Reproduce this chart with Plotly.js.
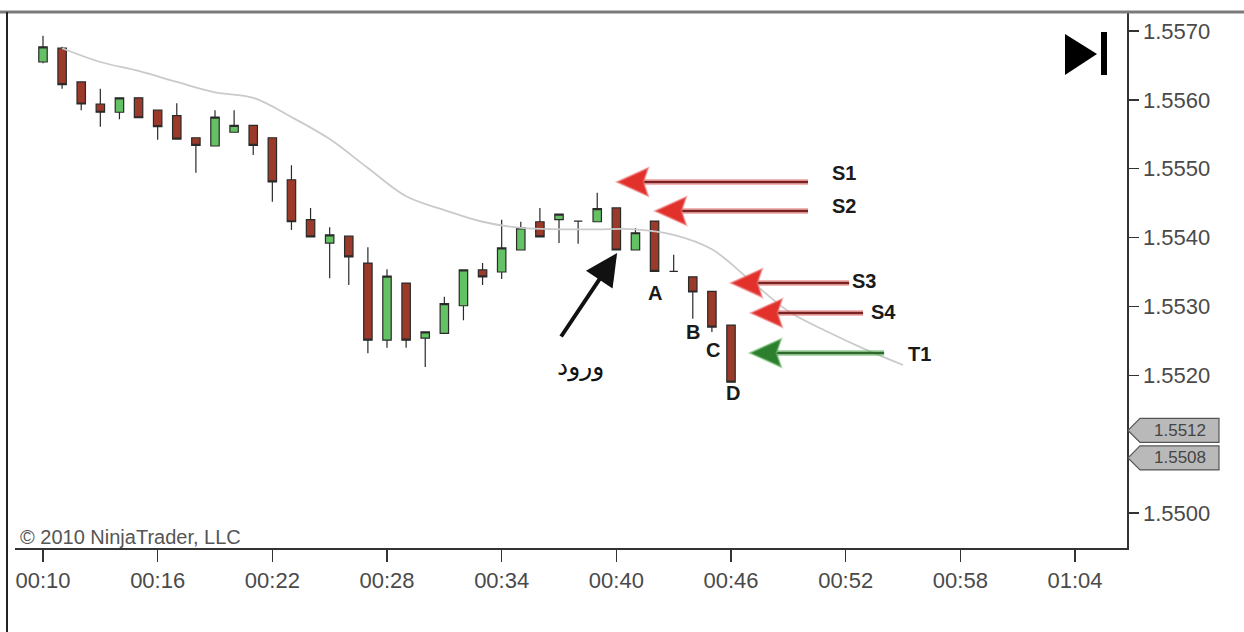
<!DOCTYPE html>
<html><head><meta charset="utf-8">
<script src="https://cdn.plot.ly/plotly-3.0.1.min.js"></script>
<style>html,body{margin:0;padding:0;background:#fff}#chart{width:1244px;height:632px}</style>
</head><body><div id="chart"></div>
<script>
// ---- data (minutes after 00:00) ----
const minutes = [10,11,12,13,14,15,16,17,18,19,20,21,22,23,24,25,26,27,28,29,30,31,32,33,34,35,36,37,38,39,40,41,42,43,44,45,46];
const openP  = [1.55655,1.55675,1.55626,1.55594,1.55582,1.55603,1.55585,1.55577,1.55545,1.55533,1.55553,1.55563,1.55545,1.55484,1.55426,1.55392,1.55402,1.55363,1.55251,1.55334,1.55254,1.55261,1.55301,1.55353,1.55350,1.55382,1.55423,1.55426,1.55424,1.55423,1.55443,1.55382,1.55424,1.55351,1.55343,1.55322,1.55273];
const highP  = [1.55693,1.55677,1.55626,1.55616,1.55603,1.55603,1.55585,1.55595,1.55545,1.55585,1.55585,1.55563,1.55545,1.55505,1.55443,1.55415,1.55402,1.55386,1.55354,1.55334,1.55263,1.55314,1.55353,1.55363,1.55426,1.55423,1.55443,1.55434,1.55424,1.55465,1.55443,1.55414,1.55424,1.55375,1.55343,1.55322,1.55273];
const lowP   = [1.55653,1.55616,1.55585,1.55561,1.55572,1.55574,1.55542,1.55543,1.55494,1.55533,1.55553,1.55520,1.55452,1.55411,1.55401,1.55341,1.55331,1.55232,1.55240,1.55240,1.55212,1.55261,1.55280,1.55331,1.55340,1.55382,1.55401,1.55392,1.55391,1.55423,1.55382,1.55382,1.55351,1.55351,1.55282,1.55263,1.55190];
const closeP = [1.55677,1.55622,1.55594,1.55582,1.55603,1.55574,1.55561,1.55543,1.55534,1.55575,1.55563,1.55534,1.55481,1.55423,1.55401,1.55404,1.55372,1.55251,1.55344,1.55251,1.55263,1.55304,1.55353,1.55343,1.55385,1.55414,1.55401,1.55434,1.55424,1.55442,1.55382,1.55407,1.55351,1.55351,1.55321,1.55270,1.55190];

const maMinutes = [11,13,15,17,19,21,23,25,27,29,31,33,35,37,39,41,43,45,47,49,51,53,55];
const maValues  = [1.55675,1.55655,1.55642,1.55626,1.55611,1.55603,1.55575,1.55543,1.55501,1.55460,1.55440,1.55423,1.55414,1.55412,1.55412,1.55412,1.55404,1.55383,1.55338,1.55293,1.55264,1.55238,1.55215];

const xTickVals = [10,16,22,28,34,40,46,52,58,64];
const xTickText = ['00:10','00:16','00:22','00:28','00:34','00:40','00:46','00:52','00:58','01:04'];
// 1.5510 is hidden under the price markers in the reference
const yTickVals = [1.5500,1.5520,1.5530,1.5540,1.5550,1.5560,1.5570];

const levelNames = ['S1','S2','S3','S4','T1'];
const levelPrice = [1.554807,1.554386,1.55334,1.552905,1.552324];
const levelTipX  = [40.04,42.03,46.00,47.05,47.00];
const levelTailX = [50.03,50.03,52.18,52.91,54.01];
const levelLabelX = [51.92,51.92,52.96,53.96,55.84];
const levelLabelY = [1.554938,1.554459,1.553369,1.552919,1.552309];

const pointNames = ['A','B','C','D'];
const pointX = [42.03,44.02,45.06,46.11];
const pointY = [1.553195,1.552629,1.552367,1.551743];

const priceMarkers = [1.5512,1.5508];
const priceMarkerText = ['1.5512','1.5508'];

// ---- geometry ----
const X0 = 8.535, X1 = 66.72, Y0 = 1.549492, Y1 = 1.557276;
const ML = 15, MR = 117, MT = 12, MB = 84, W = 1244, H = 632;
const plotW = W - ML - MR, plotH = H - MT - MB;
const dxPx = (X1 - X0) / plotW, dyPx = (Y1 - Y0) / plotH;
const px2paperX = px => (px - ML) / plotW;
const py2paperY = py => (H - MB - py) / plotH;
const price2paperY = p => (p - Y0) / (Y1 - Y0);

const shapes = [];
const annotations = [];

// level arrows
levelNames.forEach((n, i) => {
  const green = n === 'T1';
  const halo = green ? 'rgba(110,185,110,0.55)' : 'rgba(235,120,120,0.55)';
  const core = green ? '#2f6a2a' : '#7a2323';
  const head = green ? '#2c7f2c' : '#e2302b';
  const y = levelPrice[i], tip = levelTipX[i];
  const hl = 31 * dxPx, hh = 14 * dyPx;
  shapes.push({type:'line', xref:'x', yref:'y', x0: levelTailX[i], x1: tip + hl*0.6, y0: y, y1: y, line:{color: halo, width: 6}});
  shapes.push({type:'line', xref:'x', yref:'y', x0: levelTailX[i], x1: tip + hl*0.6, y0: y, y1: y, line:{color: core, width: 2.5}});
  shapes.push({type:'path', xref:'x', yref:'y', path:`M ${tip},${y} L ${tip+hl},${y+hh} L ${tip+hl*0.85},${y} L ${tip+hl},${y-hh} Z`, fillcolor: head, line:{color: halo, width: 2}});
  annotations.push({xref:'x', yref:'y', x: levelLabelX[i], y: levelLabelY[i], text: '<b>' + n + '</b>', showarrow:false,
    font:{family:'Liberation Sans, Arial', size:20, color:'#1a1a1a'}});
});

pointNames.forEach((n, i) => {
  annotations.push({xref:'x', yref:'y', x: pointX[i], y: pointY[i], text:'<b>' + n + '</b>', showarrow:false,
    font:{family:'Liberation Sans, Arial', size:20, color:'#1a1a1a'}});
});

// entry arrow
annotations.push({xref:'x', yref:'y', x: 40.04, y: 1.553776, ax: -57, ay: 85, axref:'pixel', ayref:'pixel',
  showarrow:true, arrowhead:2, arrowsize:1.6, arrowwidth:4, arrowcolor:'#111', text:''});
annotations.push({xref:'x', yref:'y', x: 38.10, y: 1.55212, text:'ورود', showarrow:false,
  font:{family:'DejaVu Sans', size:25, color:'#111'}});

// price markers on the axis
priceMarkers.forEach((p, i) => {
  const yc = price2paperY(p), h = 12 / plotH;
  const xt = px2paperX(1128), xb = px2paperX(1140), xr = px2paperX(1219);
  shapes.push({type:'path', xref:'paper', yref:'paper',
    path:`M ${xt},${yc} L ${xb},${yc+h} L ${xr},${yc+h} L ${xr},${yc-h} L ${xb},${yc-h} Z`,
    fillcolor:'#b9b9b9', line:{color:'#555', width:1.2}});
  annotations.push({xref:'paper', yref:'paper', x: px2paperX(1180), y: yc, xanchor:'center', yanchor:'middle',
    text: priceMarkerText[i], showarrow:false, borderpad:0,
    font:{family:'Liberation Sans, Arial', size:17, color:'#444'}});
});

// "end" symbol top right
shapes.push({type:'path', xref:'paper', yref:'paper',
  path:`M ${px2paperX(1065)},${py2paperY(34)} L ${px2paperX(1097)},${py2paperY(54)} L ${px2paperX(1065)},${py2paperY(75)} Z`,
  fillcolor:'#000', line:{width:0}});
shapes.push({type:'rect', xref:'paper', yref:'paper', x0: px2paperX(1101), x1: px2paperX(1107), y0: py2paperY(75), y1: py2paperY(32),
  fillcolor:'#000', line:{width:0}});

// frame lines
shapes.push({type:'line', xref:'paper', yref:'paper', x0: px2paperX(0), x1: px2paperX(W), y0: py2paperY(12), y1: py2paperY(12), line:{color:'#7a7a7a', width:3}});
shapes.push({type:'line', xref:'paper', yref:'paper', x0: px2paperX(7), x1: px2paperX(7), y0: py2paperY(12), y1: py2paperY(H), line:{color:'#222', width:2}});

annotations.push({xref:'paper', yref:'paper', x: px2paperX(18), y: py2paperY(537), xanchor:'left', yanchor:'middle',
  text:'© 2010 NinjaTrader, LLC', showarrow:false, font:{family:'Liberation Sans, Arial', size:20, color:'#555'}});

const traces = [
  {type:'scatter', mode:'lines', x: maMinutes, y: maValues, line:{color:'#cacaca', width:1.8, shape:'spline'}, hoverinfo:'skip', showlegend:false},
  {type:'candlestick', x: minutes, open: openP, high: highP, low: lowP, close: closeP,
   increasing:{line:{color:'#2a2a2a', width:1.2}, fillcolor:'#64c264'},
   decreasing:{line:{color:'#2a2a2a', width:1.2}, fillcolor:'#9c3a2a'},
   whiskerwidth:0, hoverinfo:'skip', showlegend:false}
];

const layout = {
  width: W, height: H,
  margin:{l: ML, r: MR, t: MT, b: MB, pad: 0},
  paper_bgcolor:'#fff', plot_bgcolor:'#fff',
  showlegend:false, boxgap:0.37,
  xaxis:{range:[X0, X1], tickvals: xTickVals, ticktext: xTickText, ticks:'outside', ticklen:12, tickcolor:'#333', tickwidth:1.3,
    showline:true, linecolor:'#333', linewidth:1.5, showgrid:false, zeroline:false, rangeslider:{visible:false},
    tickfont:{family:'Liberation Sans, Arial', size:22, color:'#4a4a4a'}, fixedrange:true},
  yaxis:{range:[Y0, Y1], side:'right', tickvals: yTickVals, tickformat:'.4f', ticks:'outside', ticklen:10, tickcolor:'#333', tickwidth:1.3,
    showline:true, linecolor:'#333', linewidth:1.5, showgrid:false, zeroline:false,
    tickfont:{family:'Liberation Sans, Arial', size:22, color:'#4a4a4a'}, fixedrange:true},
  shapes, annotations
};

Plotly.newPlot('chart', traces, layout, {staticPlot:true, displayModeBar:false});
</script>
</body></html>
